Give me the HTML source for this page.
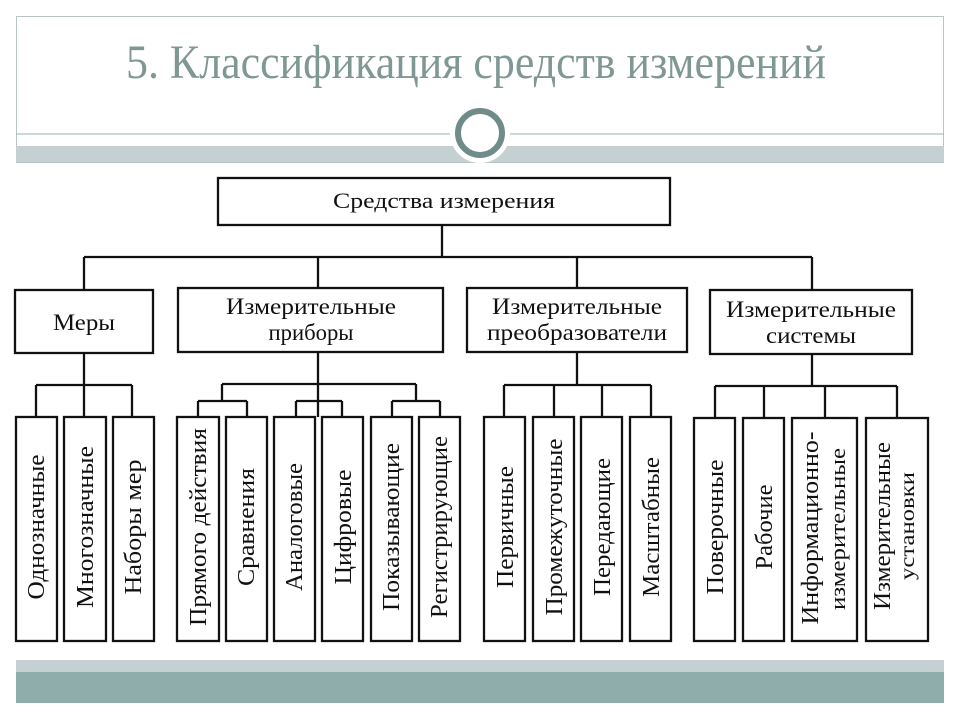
<!DOCTYPE html>
<html><head><meta charset="utf-8"><style>
html,body{margin:0;padding:0;background:#fff;}
svg{display:block;}
</style></head><body>
<svg width="960" height="720" viewBox="0 0 960 720" xmlns="http://www.w3.org/2000/svg">
<rect x="0" y="0" width="960" height="720" fill="#fff"/>
<!-- header -->
<rect x="16.5" y="16.5" width="927" height="146" fill="#fff" stroke="#b9c4c4" stroke-width="1"/>
<text x="476" y="78" text-anchor="middle" font-family="Liberation Serif, serif" font-size="48" fill="#7f9894" textLength="700" lengthAdjust="spacingAndGlyphs">5. Классификация средств измерений</text>
<line x1="16" y1="134" x2="944" y2="134" stroke="#9fb0b0" stroke-width="1"/>
<rect x="16" y="146" width="928" height="16" fill="#c4d0d2"/>
<circle cx="480" cy="133" r="30" fill="#fff"/>
<circle cx="480" cy="133" r="22" fill="#fff" stroke="#6f8c8a" stroke-width="6"/>
<!-- footer -->
<rect x="16" y="660" width="928" height="13" fill="#c4d0d2"/>
<rect x="16" y="672" width="928" height="31" fill="#8fadab"/>
<g stroke="#111" stroke-width="2.3" fill="none">
<rect x="218" y="178" width="452" height="47" fill="#fff"/>
<line x1="442" y1="225" x2="442" y2="257"/>
<line x1="84" y1="257" x2="812" y2="257"/>
<line x1="84" y1="257" x2="84" y2="290"/>
<line x1="318" y1="257" x2="318" y2="288"/>
<line x1="577" y1="257" x2="577" y2="288"/>
<line x1="812" y1="257" x2="812" y2="290"/>
<rect x="15" y="290" width="138" height="63" fill="#fff"/>
<rect x="178" y="288" width="265" height="64" fill="#fff"/>
<rect x="467" y="288" width="220" height="64" fill="#fff"/>
<rect x="710" y="290" width="202" height="64" fill="#fff"/>
<line x1="84" y1="353" x2="84" y2="417"/>
<line x1="36" y1="385" x2="132" y2="385"/>
<line x1="36" y1="385" x2="36" y2="417"/>
<line x1="132" y1="385" x2="132" y2="417"/>
<line x1="318" y1="352" x2="318" y2="417"/>
<line x1="222" y1="384" x2="416" y2="384"/>
<line x1="222" y1="384" x2="222" y2="401"/>
<line x1="416" y1="384" x2="416" y2="401"/>
<line x1="198" y1="401" x2="247" y2="401"/>
<line x1="296" y1="401" x2="342" y2="401"/>
<line x1="392" y1="401" x2="440" y2="401"/>
<line x1="198" y1="401" x2="198" y2="417"/><line x1="247" y1="401" x2="247" y2="417"/>
<line x1="296" y1="401" x2="296" y2="417"/><line x1="342" y1="401" x2="342" y2="417"/>
<line x1="392" y1="401" x2="392" y2="417"/><line x1="440" y1="401" x2="440" y2="417"/>
<line x1="577" y1="352" x2="577" y2="385"/>
<line x1="504" y1="385" x2="651" y2="385"/>
<line x1="504" y1="385" x2="504" y2="417"/><line x1="554" y1="385" x2="554" y2="417"/>
<line x1="602" y1="385" x2="602" y2="417"/><line x1="651" y1="385" x2="651" y2="417"/>
<line x1="812" y1="354" x2="812" y2="386"/>
<line x1="715" y1="386" x2="897" y2="386"/>
<line x1="715" y1="386" x2="715" y2="418"/><line x1="764" y1="386" x2="764" y2="418"/>
<line x1="825" y1="386" x2="825" y2="418"/><line x1="897" y1="386" x2="897" y2="418"/>
<rect x="16" y="417" width="41" height="224" fill="#fff"/>
<rect x="64" y="417" width="42" height="224" fill="#fff"/>
<rect x="113" y="417" width="41" height="224" fill="#fff"/>
<rect x="177" y="417" width="42" height="224" fill="#fff"/>
<rect x="226" y="417" width="41" height="224" fill="#fff"/>
<rect x="274" y="417" width="41" height="224" fill="#fff"/>
<rect x="322" y="417" width="41" height="224" fill="#fff"/>
<rect x="371" y="417" width="41" height="224" fill="#fff"/>
<rect x="419" y="417" width="41" height="224" fill="#fff"/>
<rect x="484" y="417" width="41" height="224" fill="#fff"/>
<rect x="533" y="417" width="41" height="224" fill="#fff"/>
<rect x="581" y="417" width="41" height="224" fill="#fff"/>
<rect x="630" y="417" width="41" height="224" fill="#fff"/>
<rect x="694" y="418" width="41" height="223" fill="#fff"/>
<rect x="743" y="418" width="41" height="223" fill="#fff"/>
<rect x="792" y="418" width="65" height="223" fill="#fff"/>
<rect x="866" y="418" width="62" height="223" fill="#fff"/>
</g>
<g font-family="Liberation Serif, serif" fill="#111" text-anchor="middle" font-size="22">
<text x="444" y="208" textLength="222" lengthAdjust="spacingAndGlyphs">Средства измерения</text>
<text x="84" y="330" textLength="62" lengthAdjust="spacingAndGlyphs" font-size="23">Меры</text>
<text x="311" y="314" textLength="170" lengthAdjust="spacingAndGlyphs" font-size="23">Измерительные</text>
<text x="311" y="340" textLength="85" lengthAdjust="spacingAndGlyphs" font-size="23">приборы</text>
<text x="577" y="314" textLength="170" lengthAdjust="spacingAndGlyphs" font-size="23">Измерительные</text>
<text x="577" y="340" textLength="180" lengthAdjust="spacingAndGlyphs" font-size="23">преобразователи</text>
<text x="811" y="317" textLength="170" lengthAdjust="spacingAndGlyphs" font-size="23">Измерительные</text>
<text x="811" y="343" textLength="90" lengthAdjust="spacingAndGlyphs" font-size="23">системы</text>
</g>
<g font-family="Liberation Serif, serif" fill="#111" text-anchor="middle" font-size="24">
<text transform="translate(44,527) rotate(-90)" textLength="145" lengthAdjust="spacingAndGlyphs">Однозначные</text>
<text transform="translate(93,527) rotate(-90)" textLength="162" lengthAdjust="spacingAndGlyphs">Многозначные</text>
<text transform="translate(141,527) rotate(-90)" textLength="135" lengthAdjust="spacingAndGlyphs">Наборы мер</text>
<text transform="translate(206,527) rotate(-90)" textLength="198" lengthAdjust="spacingAndGlyphs">Прямого действия</text>
<text transform="translate(254,527) rotate(-90)" textLength="118" lengthAdjust="spacingAndGlyphs">Сравнения</text>
<text transform="translate(302,527) rotate(-90)" textLength="128" lengthAdjust="spacingAndGlyphs">Аналоговые</text>
<text transform="translate(351,527) rotate(-90)" textLength="115" lengthAdjust="spacingAndGlyphs">Цифровые</text>
<text transform="translate(399,527) rotate(-90)" textLength="168" lengthAdjust="spacingAndGlyphs">Показывающие</text>
<text transform="translate(447,527) rotate(-90)" textLength="182" lengthAdjust="spacingAndGlyphs">Регистрирующие</text>
<text transform="translate(513,527) rotate(-90)" textLength="122" lengthAdjust="spacingAndGlyphs">Первичные</text>
<text transform="translate(562,527) rotate(-90)" textLength="177" lengthAdjust="spacingAndGlyphs">Промежуточные</text>
<text transform="translate(610,527) rotate(-90)" textLength="138" lengthAdjust="spacingAndGlyphs">Передающие</text>
<text transform="translate(659,527) rotate(-90)" textLength="140" lengthAdjust="spacingAndGlyphs">Масштабные</text>
<text transform="translate(723,527) rotate(-90)" textLength="135" lengthAdjust="spacingAndGlyphs">Поверочные</text>
<text transform="translate(772,527) rotate(-90)" textLength="85" lengthAdjust="spacingAndGlyphs">Рабочие</text>
<text transform="translate(818,528) rotate(-90)" textLength="193" lengthAdjust="spacingAndGlyphs">Информационно-</text>
<text transform="translate(845,529) rotate(-90)" textLength="162" lengthAdjust="spacingAndGlyphs" font-size="22">измерительные</text>
<text transform="translate(890,526) rotate(-90)" textLength="168" lengthAdjust="spacingAndGlyphs">Измерительные</text>
<text transform="translate(914,526) rotate(-90)" textLength="108" lengthAdjust="spacingAndGlyphs" font-size="20">установки</text>
</g>
</svg>
</body></html>
